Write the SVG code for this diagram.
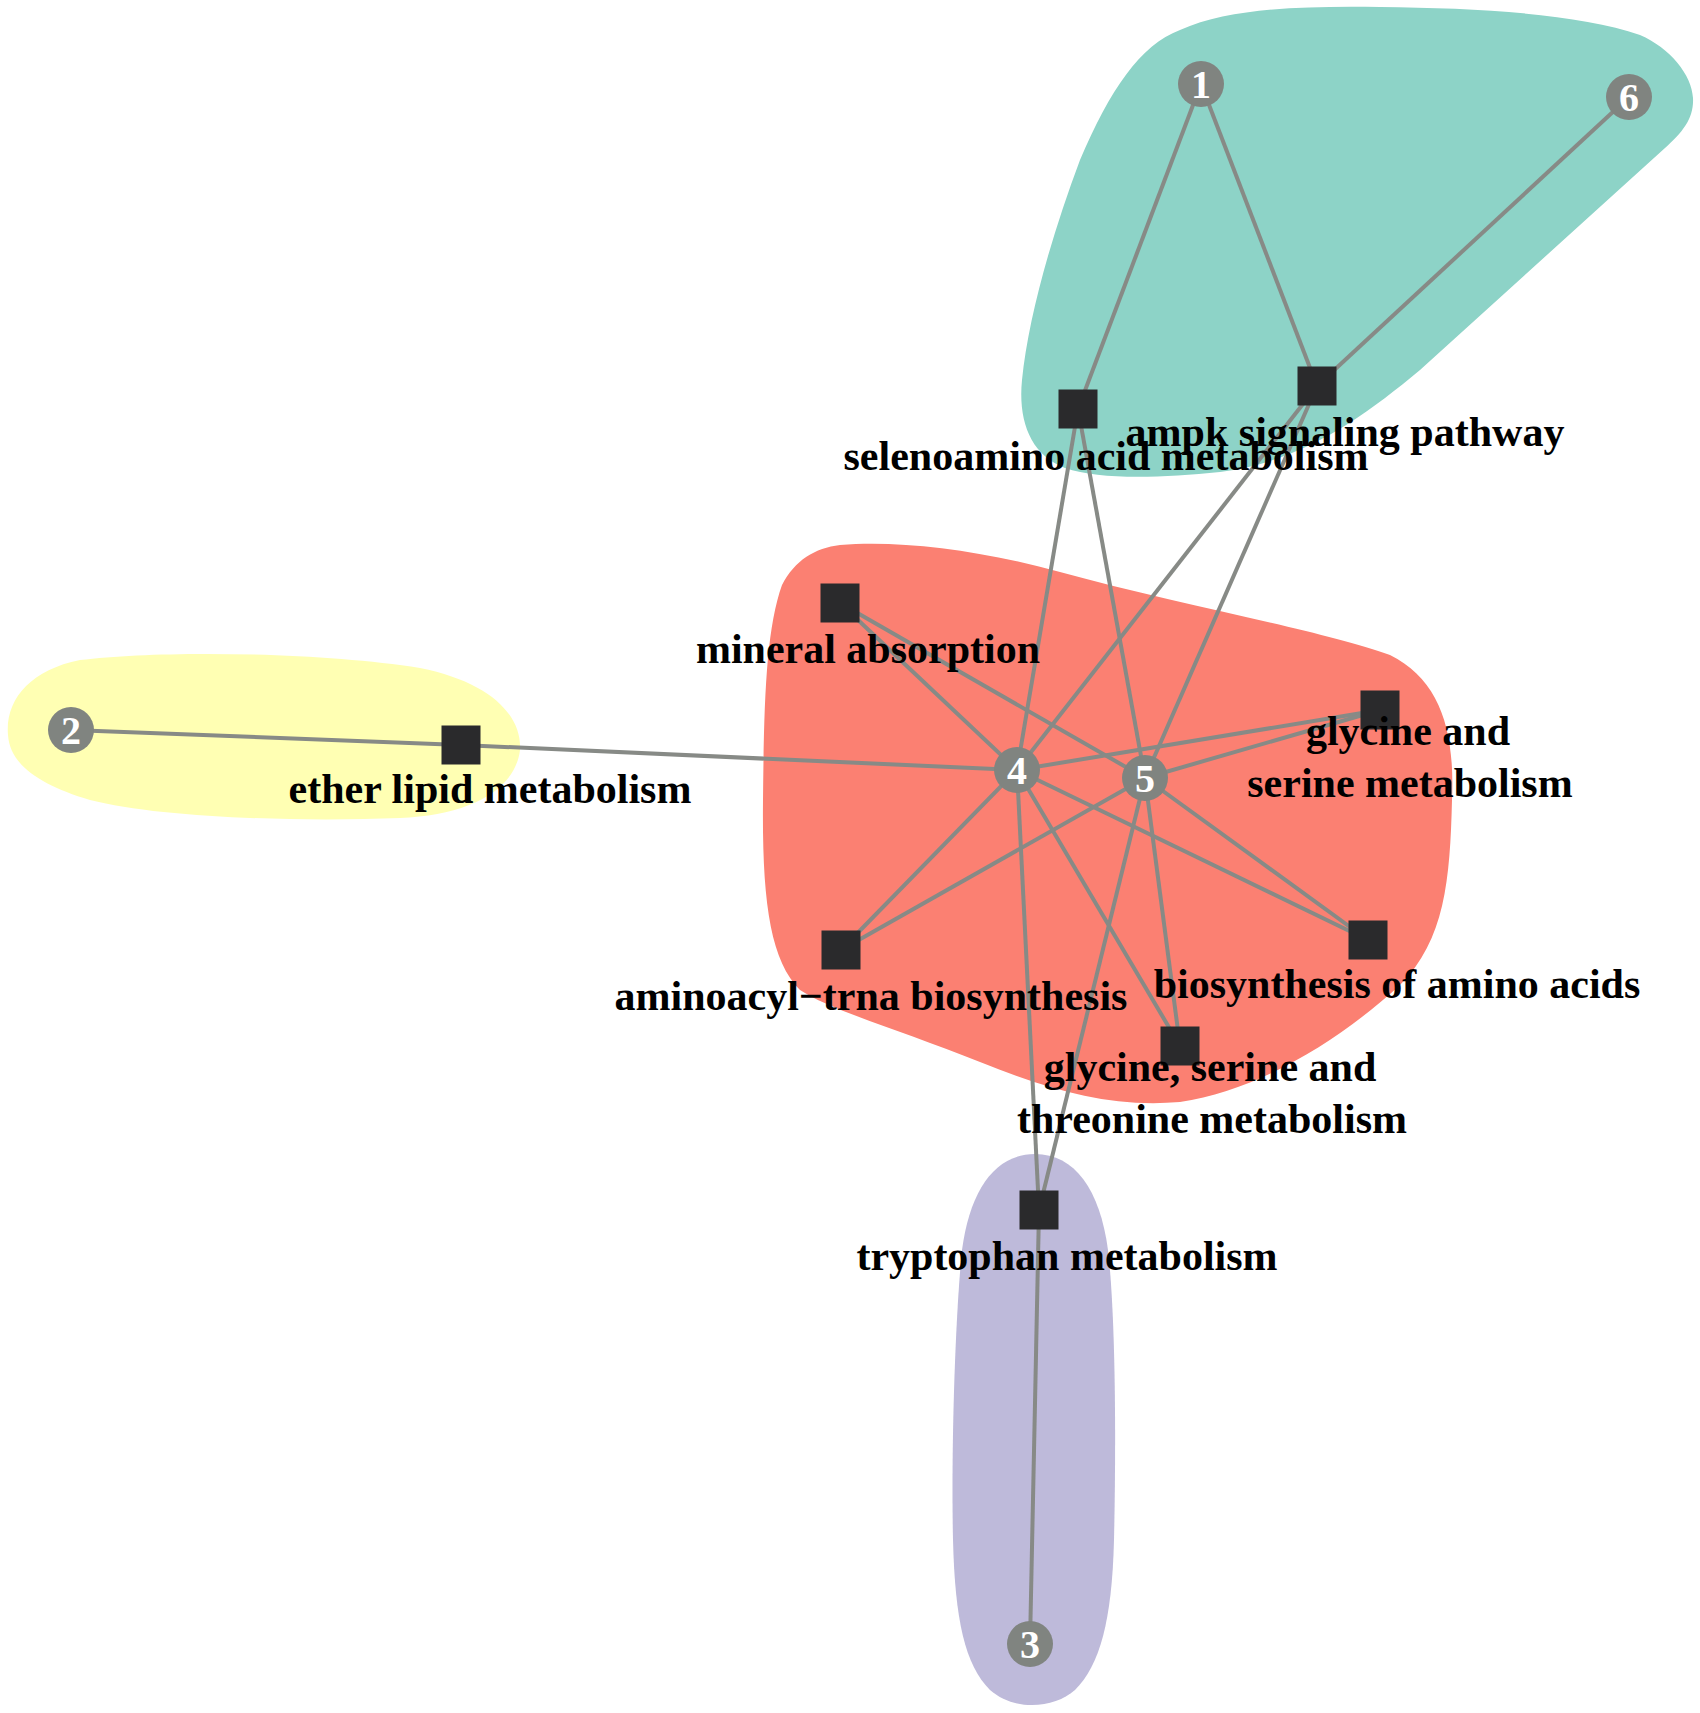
<svg xmlns="http://www.w3.org/2000/svg" width="1700" height="1713" viewBox="0 0 1700 1713">
<style>
.edge{stroke:#878a86;stroke-width:4;fill:none}
.sq{fill:#2a2a2c}
.cn{fill:#808480}
.num{font-family:"Liberation Serif",serif;font-weight:bold;font-size:40px;fill:#ffffff;text-anchor:middle}
.lbl{font-family:"Liberation Serif",serif;font-weight:bold;font-size:42px;fill:#000000;text-anchor:middle}
</style>
<rect width="1700" height="1713" fill="#ffffff"/>
<g id="groups">
<path id="group-teal" fill="#8dd3c7" d="M 1180,30 C 1230,8 1300,6 1380,7 C 1480,8 1580,14 1640,35 C 1670,48 1692,75 1693,98 C 1694,118 1683,132 1665,148 L 1420,370 C 1360,420 1300,462 1220,472 C 1160,478 1100,480 1065,468 C 1030,455 1018,420 1022,380 C 1028,320 1050,240 1080,160 C 1110,90 1140,45 1180,30 Z"/>
<path id="group-red" fill="#fb8072" d="M 840,545 C 900,540 980,550 1060,572 C 1180,605 1320,630 1390,655 C 1440,680 1455,730 1452,800 C 1450,880 1445,940 1400,985 C 1340,1040 1260,1090 1180,1102 C 1110,1108 1050,1090 980,1062 C 900,1030 830,1010 800,990 C 770,960 762,900 763,800 C 764,700 766,630 782,585 C 795,560 815,548 840,545 Z"/>
<path id="group-yellow" fill="#ffffb3" d="M 8,735 C 5,700 30,670 80,660 C 160,650 320,652 420,668 C 490,682 522,715 520,750 C 515,790 470,815 400,818 C 300,822 160,818 90,800 C 40,785 10,765 8,735 Z"/>
<path id="group-purple" fill="#bebada" d="M 1035,1154 C 1075,1154 1100,1190 1108,1250 C 1116,1320 1116,1450 1114,1540 C 1112,1620 1100,1665 1075,1690 C 1055,1708 1015,1712 990,1690 C 965,1665 955,1620 953,1540 C 951,1450 955,1320 962,1250 C 970,1190 995,1154 1035,1154 Z"/>
</g>
<g id="connectors">
<line class="edge" x1="1201" y1="84" x2="1078" y2="409"/>
<line class="edge" x1="1201" y1="84" x2="1317" y2="386"/>
<line class="edge" x1="1629" y1="97" x2="1317" y2="386"/>
<line class="edge" x1="71" y1="730" x2="461" y2="745"/>
<line class="edge" x1="461" y1="745" x2="1017" y2="770"/>
<line class="edge" x1="1017" y1="770" x2="1078" y2="409"/>
<line class="edge" x1="1145" y1="778" x2="1078" y2="409"/>
<line class="edge" x1="1017" y1="770" x2="1317" y2="386"/>
<line class="edge" x1="1145" y1="778" x2="1317" y2="386"/>
<line class="edge" x1="1017" y1="770" x2="840" y2="603"/>
<line class="edge" x1="1145" y1="778" x2="840" y2="603"/>
<line class="edge" x1="1017" y1="770" x2="1380" y2="710"/>
<line class="edge" x1="1145" y1="778" x2="1380" y2="710"/>
<line class="edge" x1="1017" y1="770" x2="841" y2="950"/>
<line class="edge" x1="1145" y1="778" x2="841" y2="950"/>
<line class="edge" x1="1017" y1="770" x2="1368" y2="940"/>
<line class="edge" x1="1145" y1="778" x2="1368" y2="940"/>
<line class="edge" x1="1017" y1="770" x2="1180" y2="1046"/>
<line class="edge" x1="1145" y1="778" x2="1180" y2="1046"/>
<line class="edge" x1="1017" y1="770" x2="1039" y2="1210"/>
<line class="edge" x1="1145" y1="778" x2="1039" y2="1210"/>
<line class="edge" x1="1030" y1="1644" x2="1039" y2="1210"/>
</g>
<g id="node-1"><circle class="cn" cx="1201" cy="84" r="23"/><text class="num" x="1201" y="98">1</text></g>
<g id="node-6"><circle class="cn" cx="1629" cy="97" r="23"/><text class="num" x="1629" y="111">6</text></g>
<g id="node-2"><circle class="cn" cx="71" cy="730" r="23"/><text class="num" x="71" y="744">2</text></g>
<g id="node-4"><circle class="cn" cx="1017" cy="770" r="23"/><text class="num" x="1017" y="784">4</text></g>
<g id="node-5"><circle class="cn" cx="1145" cy="778" r="23"/><text class="num" x="1145" y="792">5</text></g>
<g id="node-3"><circle class="cn" cx="1030" cy="1644" r="23"/><text class="num" x="1030" y="1658">3</text></g>
<g id="node-selenoamino"><rect class="sq" x="1058.5" y="389.5" width="39" height="39"/><text class="lbl" x="1106" y="470">selenoamino acid metabolism</text></g>
<g id="node-ampk"><rect class="sq" x="1297.5" y="366.5" width="39" height="39"/><text class="lbl" x="1345" y="446">ampk signaling pathway</text></g>
<g id="node-mineral"><rect class="sq" x="820.5" y="583.5" width="39" height="39"/><text class="lbl" x="868" y="663">mineral absorption</text></g>
<g id="node-ether"><rect class="sq" x="441.5" y="725.5" width="39" height="39"/><text class="lbl" x="490" y="803">ether lipid metabolism</text></g>
<g id="node-glyser"><rect class="sq" x="1360.5" y="690.5" width="39" height="39"/><text class="lbl" x="1408" y="745">glycine and</text><text class="lbl" x="1410" y="797">serine metabolism</text></g>
<g id="node-aminoacyl"><rect class="sq" x="821.5" y="930.5" width="39" height="39"/><text class="lbl" x="871" y="1010">aminoacyl−trna biosynthesis</text></g>
<g id="node-biosynthesis"><rect class="sq" x="1348.5" y="920.5" width="39" height="39"/><text class="lbl" x="1397" y="998">biosynthesis of amino acids</text></g>
<g id="node-glyserthr"><rect class="sq" x="1160.5" y="1026.5" width="39" height="39"/><text class="lbl" x="1210" y="1081">glycine, serine and</text><text class="lbl" x="1212" y="1133">threonine metabolism</text></g>
<g id="node-tryptophan"><rect class="sq" x="1019.5" y="1190.5" width="39" height="39"/><text class="lbl" x="1067" y="1270">tryptophan metabolism</text></g>
</svg>
